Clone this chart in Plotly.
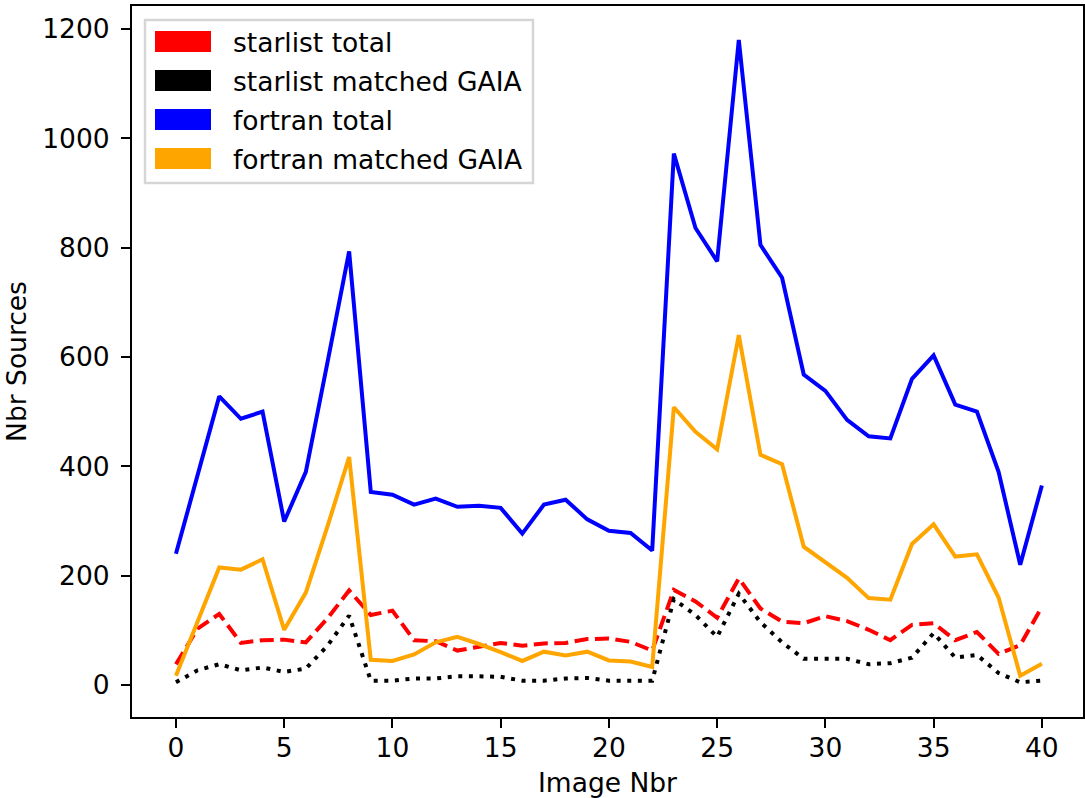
import plotly.graph_objects as go

image_nbr = list(range(41))

starlist_total = [38, 103, 130, 77, 82, 83, 78, 122, 173, 128, 136, 82, 80, 63, 70, 77, 72, 76, 77, 84,
                  85, 79, 63, 174, 153, 123, 195, 140, 116, 113, 126, 117, 101, 82, 110, 113, 82, 97, 57, 73, 143]
starlist_matched = [5, 27, 38, 27, 32, 24, 30, 72, 127, 8, 8, 12, 12, 16, 16, 15, 8, 8, 12, 13,
                    8, 8, 8, 157, 128, 88, 167, 115, 78, 48, 48, 48, 38, 40, 50, 95, 50, 55, 22, 5, 8]
fortran_total = [240, 385, 528, 487, 500, 299, 390, 590, 793, 353, 348, 330, 341, 326, 328, 324, 277, 330, 339, 303,
                 282, 278, 246, 972, 836, 775, 1180, 805, 745, 568, 538, 485, 455, 451, 560, 603, 513, 500, 390, 220, 365]
fortran_matched = [17, 115, 215, 211, 230, 101, 169, 290, 417, 46, 44, 56, 78, 88, 75, 60, 44, 61, 54, 61,
                   45, 43, 33, 508, 463, 431, 640, 421, 404, 253, 225, 196, 159, 156, 258, 294, 235, 239, 160, 17, 39]

names = ["starlist total", "starlist matched GAIA", "fortran total", "fortran matched GAIA"]
colors = ["red", "black", "blue", "orange"]
dashes = ["14px,6.5px", "4px,6.6px", "solid", "solid"]
series = [starlist_total, starlist_matched, fortran_total, fortran_matched]

FONT = "DejaVu Sans"
FS = 26.5
W, H = 1085, 798
L, R, T, B = 132, 1083, 6, 717  # plot area in pixels


def px(xp):
    return (xp - L) / (R - L)


def py(yp):
    return (B - yp) / (B - T)


fig = go.Figure()
for name, col, dash, ys in zip(names, colors, dashes, series):
    fig.add_trace(go.Scatter(x=image_nbr, y=ys, mode="lines", name=name, showlegend=False,
                             line=dict(color=col, width=4, dash=dash)))

# legend drawn as patches + text (matplotlib-style patch handles)
shapes = [dict(type="rect", xref="paper", yref="paper", x0=px(145), x1=px(533), y0=py(183), y1=py(20),
               line=dict(color="#d6d6d6", width=2.5), fillcolor="rgba(255,255,255,0.8)", layer="above")]
annotations = []
for i, (name, col) in enumerate(zip(names, colors)):
    cy = 41.5 + 39 * i
    shapes.append(dict(type="rect", xref="paper", yref="paper", x0=px(155), x1=px(211),
                       y0=py(cy + 10.5), y1=py(cy - 10.5), line=dict(width=0), fillcolor=col, layer="above"))
    annotations.append(dict(text=name, xref="paper", yref="paper", x=px(231), y=py(cy + 1),
                            xanchor="left", yanchor="middle", showarrow=False,
                            font=dict(family=FONT, size=FS, color="black")))

fig.update_layout(
    width=W, height=H,
    margin=dict(l=L, r=W - R, t=T, b=H - B),
    plot_bgcolor="white", paper_bgcolor="white",
    font=dict(family=FONT, size=FS, color="black"),
    showlegend=False,
    shapes=shapes, annotations=annotations,
    xaxis=dict(range=[-2.03, 41.9], tickmode="array", tickvals=[0, 5, 10, 15, 20, 25, 30, 35, 40],
               showgrid=False, zeroline=False, showline=True, linecolor="black", linewidth=2, mirror=True,
               ticks="outside", ticklen=9, tickwidth=2, tickcolor="black", automargin=False,
               ticklabelstandoff=-3, tickfont=dict(family=FONT, size=FS),
               title=dict(text="Image Nbr", font=dict(family=FONT, size=FS), standoff=18)),
    yaxis=dict(range=[-58.5, 1242], tickmode="array", tickvals=[0, 200, 400, 600, 800, 1000, 1200],
               showgrid=False, zeroline=False, showline=True, linecolor="black", linewidth=2, mirror=True,
               ticks="outside", ticklen=9, tickwidth=2, tickcolor="black", automargin=False,
               ticklabelstandoff=6, tickfont=dict(family=FONT, size=FS),
               title=dict(text="Nbr Sources", font=dict(family=FONT, size=FS), standoff=8)),
)

fig.write_html("out.html", config={"displayModeBar": False},
               post_script="document.body.style.margin='0';")
